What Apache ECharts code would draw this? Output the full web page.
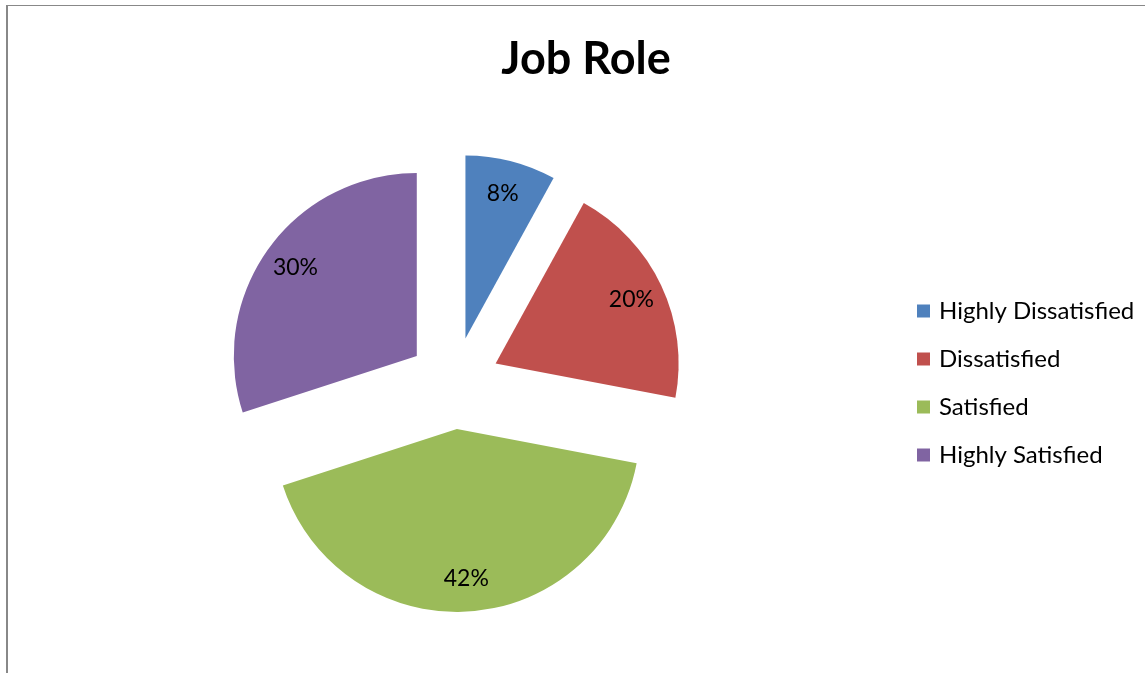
<!DOCTYPE html>
<html>
<head>
<meta charset="utf-8">
<title>Job Role</title>
<script src="https://cdn.jsdelivr.net/npm/echarts@6/dist/echarts.min.js"></script>
<style>
  html, body { margin: 0; padding: 0; background: #ffffff; }
  #frame {
    position: absolute; left: 6px; top: 5px; right: -10px; bottom: -10px;
    border-top: 1px solid #888888; border-left: 2px solid #888888;
  }
  #chart { position: absolute; left: 0; top: 0; width: 1145px; height: 673px; }
</style>
</head>
<body>
<div id="frame"></div>
<div id="chart"></div>
<script>
// Job role satisfaction shares (percent)
const categories = ['Highly Dissatisfied', 'Dissatisfied', 'Satisfied', 'Highly Satisfied'];
const values = [8, 20, 42, 30];
const colors = ['#4F81BD', '#C0504D', '#9BBB59', '#8064A2'];

const FONT = 'Lato, "Open Sans", sans-serif';
const center = [454, 383];
const outerRadius = 183;
const explode = 46;

const sliceData = categories.map((name, i) => ({
  name: name,
  value: values[i],
  selected: true,
  itemStyle: { color: colors[i] }
}));

// Transparent ring used only to place the percentage labels further out
const labelData = categories.map((name, i) => ({
  name: name,
  value: values[i],
  selected: true,
  itemStyle: { color: 'rgba(0,0,0,0)' }
}));

const chart = echarts.init(document.getElementById('chart'), null, { renderer: 'canvas' });
chart.setOption({
  backgroundColor: 'transparent',
  animation: false,
  color: colors,
  title: {
    text: 'Job Role',
    left: 581,
    textAlign: 'center',
    top: 32,
    textStyle: { fontFamily: FONT, fontWeight: 'bold', fontSize: 45, color: '#000000' }
  },
  legend: {
    orient: 'vertical',
    left: 912,
    top: 293,
    icon: 'rect',
    itemWidth: 13,
    itemHeight: 13,
    itemGap: 22,
    selectedMode: false,
    data: categories,
    textStyle: {
      fontFamily: FONT, fontSize: 24, color: '#000000',
      lineHeight: 26, padding: [0, 0, 0, 4]
    }
  },
  series: [
    {
      type: 'pie',
      center: center,
      radius: outerRadius,
      startAngle: 90,
      clockwise: true,
      selectedMode: 'multiple',
      selectedOffset: explode,
      silent: true,
      label: { show: false },
      labelLine: { show: false },
      emphasis: { disabled: true },
      data: sliceData
    },
    {
      type: 'pie',
      center: center,
      radius: [111, outerRadius],
      startAngle: 90,
      clockwise: true,
      selectedMode: 'multiple',
      selectedOffset: explode,
      silent: true,
      z: 3,
      label: {
        show: true,
        position: 'inside',
        formatter: '{d}%',
        fontFamily: FONT,
        fontSize: 23,
        color: '#000000'
      },
      labelLine: { show: false },
      emphasis: { disabled: true },
      data: labelData
    }
  ]
});
</script>
</body>
</html>
